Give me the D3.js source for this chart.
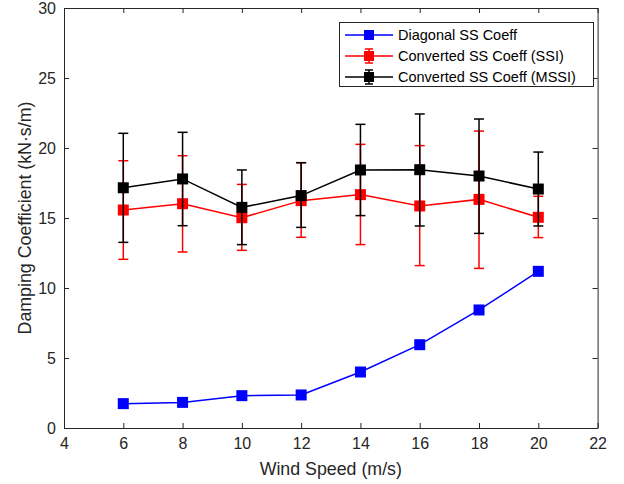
<!DOCTYPE html>
<html><head><meta charset="utf-8">
<script src="https://cdn.jsdelivr.net/npm/d3@7"></script>
<style>body{margin:0;background:#fff}svg{display:block;font-family:Arial,"Liberation Sans",sans-serif}</style>
</head><body><svg id="c" width="624" height="484"></svg>
<script>
const windSpeed = [6, 8, 10, 12, 14, 16, 18, 20];
const diagonal = [1.74, 1.83, 2.31, 2.36, 4.0, 5.95, 8.43, 11.19];
const ssi = [15.57, 16.02, 15.02, 16.24, 16.67, 15.86, 16.33, 15.05];
const ssiHigh = [19.09, 19.45, 17.4, 18.95, 20.26, 20.17, 21.21, 16.55];
const ssiLow = [12.05, 12.57, 12.69, 13.62, 13.1, 11.6, 11.4, 13.6];
const mssi = [17.16, 17.79, 15.76, 16.6, 18.43, 18.45, 18.0, 17.07];
const mssiHigh = [21.05, 21.12, 18.43, 18.95, 21.69, 22.43, 22.07, 19.71];
const mssiLow = [13.26, 14.45, 13.1, 14.33, 15.17, 14.43, 13.9, 14.43];
const xTicks = [4, 6, 8, 10, 12, 14, 16, 18, 20, 22];
const yTicks = [0, 5, 10, 15, 20, 25, 30];
const seriesNames = ["Diagonal SS Coeff", "Converted SS Coeff (SSI)", "Converted SS Coeff (MSSI)"];

const svg = d3.select("#c");
const L = 64, R = 597.6, T = 8, B = 428;
const x = d3.scaleLinear().domain([4, 22]).range([L, R]);
const y = d3.scaleLinear().domain([0, 30]).range([B, T]);
const axisCol = "#262626";

const gx = svg.append("g").attr("transform", `translate(0,${B})`)
  .call(d3.axisBottom(x).tickValues(xTicks).tickSizeInner(-5).tickSizeOuter(0).tickPadding(10));
const gxt = svg.append("g").attr("transform", `translate(0,${T})`)
  .call(d3.axisTop(x).tickValues(xTicks).tickSizeInner(-5).tickSizeOuter(0).tickFormat(""));
const gy = svg.append("g").attr("transform", `translate(${L},0)`)
  .call(d3.axisLeft(y).tickValues(yTicks).tickSizeInner(-5).tickSizeOuter(0).tickPadding(8));
const gyr = svg.append("g").attr("transform", `translate(${R},0)`)
  .call(d3.axisRight(y).tickValues(yTicks).tickSizeInner(-5).tickSizeOuter(0).tickFormat(""));
[gx, gxt, gy, gyr].forEach(g => {
  g.selectAll("path").attr("stroke", axisCol).attr("stroke-width", 1);
  g.selectAll("line").attr("stroke", axisCol).attr("stroke-width", 1);
  g.selectAll("text").attr("fill", axisCol).style("font-size", "16px").style("font-family", "Arial, 'Liberation Sans', sans-serif");
});

svg.append("text").attr("x", (L + R) / 2).attr("y", 475).attr("text-anchor", "middle")
  .attr("fill", axisCol).style("font-size", "17.8px").text("Wind Speed (m/s)");
svg.append("text").attr("transform", `translate(31,${(T + B) / 2}) rotate(-90)`).attr("text-anchor", "middle")
  .attr("fill", axisCol).style("font-size", "17.8px").text("Damping Coefficient (kN·s/m)");

const line = d3.line().x(d => x(d[0])).y(d => y(d[1]));
const ms = 11, cap = 10;

function drawSeries(vals, col, lo, hi) {
  const g = svg.append("g");
  const pts = windSpeed.map((w, i) => [w, vals[i]]);
  if (lo) {
    windSpeed.forEach((w, i) => {
      g.append("line").attr("x1", x(w)).attr("x2", x(w)).attr("y1", y(lo[i])).attr("y2", y(hi[i]))
        .attr("stroke", col).attr("stroke-width", 1.5);
      [lo[i], hi[i]].forEach(v => g.append("line").attr("x1", x(w) - cap / 2).attr("x2", x(w) + cap / 2)
        .attr("y1", y(v)).attr("y2", y(v)).attr("stroke", col).attr("stroke-width", 1.5));
    });
  }
  g.append("path").datum(pts).attr("d", line).attr("fill", "none").attr("stroke", col).attr("stroke-width", 1.5);
  g.selectAll("rect").data(pts).join("rect")
    .attr("x", d => x(d[0]) - ms / 2).attr("y", d => y(d[1]) - ms / 2)
    .attr("width", ms).attr("height", ms).attr("fill", col);
}
drawSeries(diagonal, "#0000ff");
drawSeries(ssi, "#ff0000", ssiLow, ssiHigh);
drawSeries(mssi, "#000000", mssiLow, mssiHigh);

const lg = svg.append("g");
lg.append("rect").attr("x", 339.5).attr("y", 22.5).attr("width", 254).attr("height", 64)
  .attr("fill", "#fff").attr("stroke", axisCol).attr("stroke-width", 1);
const cols = ["#0000ff", "#ff0000", "#000000"];
seriesNames.forEach((n, i) => {
  const yy = 35 + i * 21;
  lg.append("line").attr("x1", 345).attr("x2", 393).attr("y1", yy).attr("y2", yy).attr("stroke", cols[i]).attr("stroke-width", 1.5);
  if (i > 0) {
    lg.append("line").attr("x1", 369).attr("x2", 369).attr("y1", yy - 7).attr("y2", yy + 7).attr("stroke", cols[i]).attr("stroke-width", 1.5);
    [yy - 7, yy + 7].forEach(v => lg.append("line").attr("x1", 365).attr("x2", 373).attr("y1", v).attr("y2", v).attr("stroke", cols[i]).attr("stroke-width", 1.5));
  }
  lg.append("rect").attr("x", 369 - 5).attr("y", yy - 5).attr("width", 10).attr("height", 10).attr("fill", cols[i]);
  lg.append("text").attr("x", 398).attr("y", yy + 5).attr("fill", "#000").style("font-size", "14.5px").text(n);
});
</script></body></html>
